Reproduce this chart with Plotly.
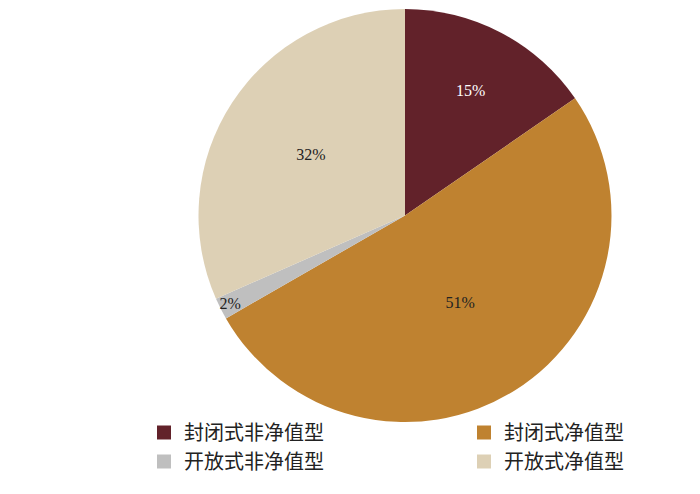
import plotly.graph_objects as go

labels = ["封闭式非净值型", "封闭式净值型", "开放式非净值型", "开放式净值型"]
values = [15.4, 51.3, 1.7, 31.6]
colors = ["#62222A", "#BF8230", "#BFBFBF", "#DDD0B5"]
text_colors = ["#FFFFFF", "#222222", "#222222", "#222222"]
legend_columns = ["legend", "legend2", "legend", "legend2"]

W, H = 700, 494
FONT = "Liberation Serif, Noto Sans CJK SC"

fig = go.Figure()
fig.add_trace(go.Pie(
    labels=labels, values=values, sort=False, direction="clockwise", rotation=0,
    marker=dict(colors=colors, line=dict(width=0)),
    texttemplate="%{percent:.0%}", textposition="inside",
    insidetextorientation="horizontal",
    textfont=dict(family=FONT, size=16, color=text_colors),
    hoverinfo="label+percent", showlegend=False,
    domain=dict(x=[187 / W, 607 / W], y=[(H - 414) / H, (H - 1) / H]),
))
for lab, col, lg in zip(labels, colors, legend_columns):
    fig.add_trace(go.Scatter(
        x=[None], y=[None], mode="markers", name=lab, legend=lg, legendgroup=lab,
        marker=dict(symbol="square", size=14, color=col), hoverinfo="skip",
    ))

legend_style = dict(orientation="v", y=1 - 405 / H, xanchor="left", yanchor="top",
                    traceorder="normal", tracegroupgap=7, bgcolor="rgba(0,0,0,0)",
                    font=dict(family=FONT, size=20, color="#222222"))
fig.update_layout(
    width=W, height=H, margin=dict(l=0, r=0, t=0, b=0, autoexpand=False),
    paper_bgcolor="white", plot_bgcolor="white",
    uniformtext=dict(minsize=16, mode="show"),
    xaxis=dict(visible=False), yaxis=dict(visible=False),
    legend=dict(x=136 / W, **legend_style),
    legend2=dict(x=456 / W, **legend_style),
)
fig.write_html("out.html")
